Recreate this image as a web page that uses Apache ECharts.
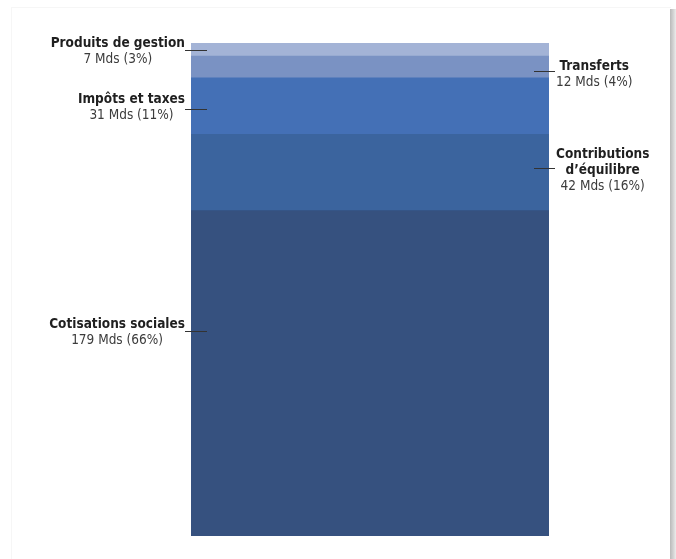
<!DOCTYPE html>
<html>
<head>
<meta charset="utf-8">
<script src="https://cdn.jsdelivr.net/npm/echarts@6/dist/echarts.min.js"></script>
<style>
    html, body { margin: 0; padding: 0; background: #ffffff; }
    .card { position: absolute; left: 11px; top: 7px; width: 659px; height: 560px;
            background: #ffffff; border-left: 1px solid #f6f6f6; border-top: 1px solid #f6f6f6; }
    .edge { position: absolute; left: 670px; top: 9px; width: 6px; height: 560px;
            background: linear-gradient(to right, #b9b9b9, #d6d6d6 60%, #ececec); }
    #chart { position: absolute; left: 0; top: 0; width: 676px; height: 559px; }
</style>
</head>
<body>
<div class="card"></div>
<div class="edge"></div>
<div id="chart"></div>
<script>
    // données (milliards d'euros), du bas vers le haut de la barre
    const categories = ['Ressources'];
    const segmentNames = ['Cotisations sociales', 'Contributions\nd’équilibre', 'Impôts et taxes', 'Transferts', 'Produits de gestion'];
    const segmentValues = [179, 42, 31, 12, 7];
    const segmentShares = [66, 16, 11, 4, 3];

    const segmentColors = ['#36517f', '#3b649e', '#4470b6', '#7a92c3', '#a3b3d6'];
    // side of the label, vertical shift of the label and of its leader line
    const labelSetup = [
        {side: 'left', dy: -41, lineDy: -42},
        {side: 'right', dy: -2, lineDy: -4},
        {side: 'left', dy: 2, lineDy: 3},
        {side: 'right', dy: 8, lineDy: 4},
        {side: 'left', dy: 2, lineDy: 1}
    ];

    const gridLeft = 191, gridRight = 127, gridTop = 43, gridBottom = 23;
    const fontFamily = "'Liberation Sans Narrow', 'DejaVu Sans Condensed', sans-serif";

    let total = segmentValues.reduce(function (a, b) { return a + b; }, 0);

    let elem = document.getElementById('chart');
    let chart = echarts.init(elem);

    function label_text(i) {
        let lines = segmentNames[i].split('\n').map(function (l) { return '{b|' + l + '}'; });
        lines.push('{v|' + segmentValues[i] + ' Mds (' + segmentShares[i] + '%)}');
        return lines.join('\n');
    }

    let series = segmentNames.map(function (name, i) {
        let last = i === segmentNames.length - 1;
        return {
            name: name,
            type: 'bar',
            stack: 'total',
            barWidth: '100%',
            silent: true,
            data: [segmentValues[i]],
            // a 1px shadow upwards hides the light seam between two segments
            itemStyle: {
                color: segmentColors[i],
                shadowColor: last ? 'transparent' : segmentColors[i],
                shadowBlur: 0,
                shadowOffsetY: last ? 0 : -1.5
            },
            label: {
                show: true,
                position: labelSetup[i].side,
                distance: labelSetup[i].side === 'left' ? 6 : 7,
                offset: [0, labelSetup[i].dy],
                formatter: function () { return label_text(i); },
                rich: {
                    b: {fontFamily: fontFamily, fontSize: 13.5, fontWeight: 'bold', color: '#1f1f1f', lineHeight: 16, align: 'center'},
                    v: {fontFamily: fontFamily, fontSize: 13.5, color: '#3c3c3c', lineHeight: 16, align: 'center'}
                }
            }
        };
    });

    chart.setOption({
        animation: false,
        grid: {left: gridLeft, right: gridRight, top: gridTop, bottom: gridBottom},
        xAxis: {
            type: 'category',
            data: categories,
            show: false
        },
        yAxis: {
            type: 'value',
            min: 0,
            max: total,
            show: false
        },
        series: series
    });

    // traits de rappel
    let barLeft = gridLeft;
    let barRight = 676 - gridRight;
    let lines = [];
    let base = 0;
    segmentValues.forEach(function (v, i) {
        let mid = base + v / 2;
        base += v;
        let y = Math.round(chart.convertToPixel({gridIndex: 0}, [0, mid])[1] + labelSetup[i].lineDy) + 0.5;
        let x0, x1;
        if (labelSetup[i].side === 'left') {
            x0 = barLeft - 6; x1 = barLeft + 16;
        } else {
            x0 = barRight - 15; x1 = barRight + 6;
        }
        lines.push({
            type: 'line',
            silent: true,
            z: 100,
            shape: {x1: x0, y1: y, x2: x1, y2: y},
            style: {stroke: '#333333', lineWidth: 1}
        });
    });
    chart.setOption({graphic: lines});
</script>
</body>
</html>
